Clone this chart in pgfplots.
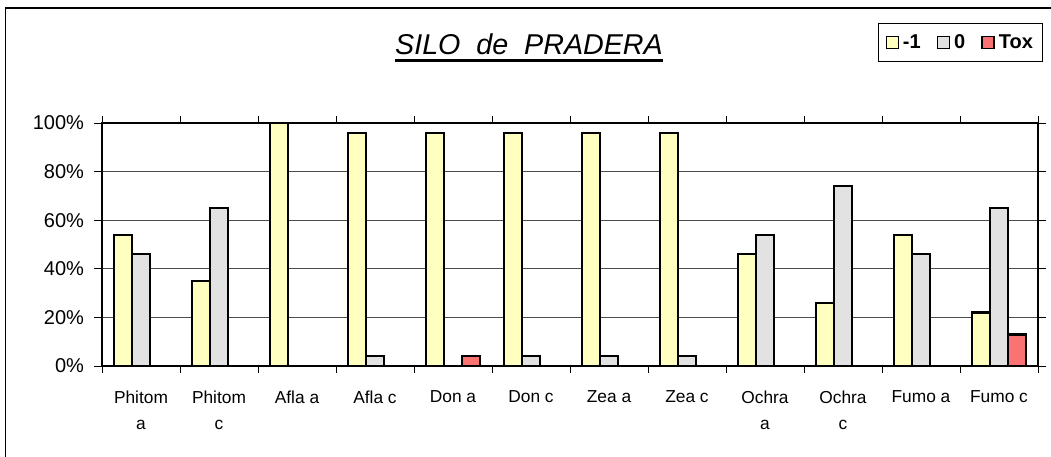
\documentclass[border=0pt]{standalone}
\usepackage{pgfplots}
\pgfplotsset{compat=1.18}
\usepackage{fontspec}
\setmainfont{Liberation Sans}
\definecolor{cyel}{HTML}{FFFFC0}
\definecolor{cgry}{HTML}{E2E2E2}
\definecolor{ctox}{HTML}{FA7272}
\begin{document}
\begin{tikzpicture}[x=0.75pt,y=0.75pt]
\useasboundingbox (0,0) rectangle (1051,457);
% outer chart frame (left and top visible)
\draw[line width=1.2pt] (5.5,0) -- (5.5,449) -- (1051,449);
% title
\node[inner sep=0pt, anchor=base, font=\fontsize{21.5}{25}\selectfont\itshape] (t) at (529,402) {SILO\ \ de\ \ PRADERA};
\draw[line width=2pt] ([yshift=-4pt]t.base west) -- ([yshift=-4pt]t.base east);
\begin{axis}[
  at={(76.5pt,68.25pt)}, anchor=south west,
  scale only axis, width=702pt, height=182.25pt,
  xmin=-0.5, xmax=11.5, ymin=0, ymax=100,
  ybar=0pt, bar width=13.5pt,
  axis line style={line width=1.6pt, black},
  xtick={0,...,11},
  xticklabels={{Phitom\\a},{Phitom\\c},{Afla a},{Afla c},{Don a},{Don c},{Zea a},{Zea c},{Ochra\\a},{Ochra\\c},{Fumo a},{Fumo c}},
  xticklabel style={align=center, font=\fontsize{13}{20}\selectfont, yshift=-9pt},
  major x tick style={draw=none},
  minor xtick={-0.5,0.5,...,11.5},
  minor x tick style={line width=0.7pt, black},
  minor tick length=5pt,
  ytick={0,20,40,60,80,100},
  yticklabels={0\%,20\%,40\%,60\%,80\%,100\%},
  yticklabel style={font=\fontsize{15}{18}\selectfont, xshift=-4pt},
  y tick style={line width=0.7pt, black},
  tick align=outside, major tick length=6pt,
  ymajorgrids, major grid style={line width=0.6pt, black!70},
  every axis plot/.append style={draw=black, line width=1.8pt},
  legend style={at={(1.005,1.41)}, anchor=north east, legend columns=3,
    draw=black, line width=0.7pt, font=\fontsize{15}{18}\selectfont\bfseries,
    inner xsep=5pt, inner ysep=6pt,
    /tikz/every odd column/.append style={column sep=1pt},
    /tikz/every even column/.append style={column sep=10pt}},
  legend image code/.code={\draw[#1, line width=1.1pt] (0pt,-4.5pt) rectangle (9pt,4.5pt);},
]
\addplot[fill=cyel] coordinates {(0,54) (1,35) (2,100) (3,96) (4,96) (5,96) (6,96) (7,96) (8,46) (9,26) (10,54) (11,22)};
\addplot[fill=cgry] coordinates {(0,46) (1,65) (3,4) (5,4) (6,4) (7,4) (8,54) (9,74) (10,46) (11,65)};
\addplot[fill=ctox] coordinates {(4,4) (11,13)};
\legend{-1,0,Tox}
\end{axis}
\end{tikzpicture}
\end{document}
